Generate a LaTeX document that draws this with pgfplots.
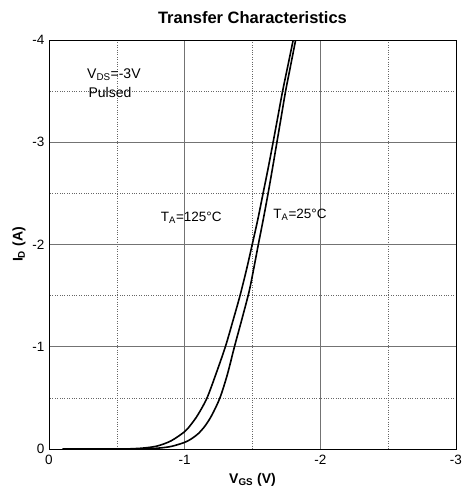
\documentclass[border=0pt]{standalone}
\usepackage{fontspec}
\setmainfont{Liberation Sans}
\usepackage{pgfplots}
\pgfplotsset{compat=1.18}
\begin{document}
\begin{tikzpicture}
\path[use as bounding box] (-49pt,-42pt) rectangle (416pt,449pt);
\begin{axis}[
  at={(0,0)}, anchor=south west,
  scale only axis, width=407pt, height=409pt,
  xmin=-3, xmax=0, ymin=-4, ymax=0,
  x dir=reverse, y dir=reverse,
  xtick={0,-1,-2,-3}, xticklabels={0,-1,-2,-3},
  ytick={0,-1,-2,-3,-4}, yticklabels={0,-1,-2,-3,-4},
  minor xtick={-0.5,-1.5,-2.5}, minor ytick={-0.5,-1.5,-2.5,-3.5},
  grid=both,
  major grid style={draw=black!55, line width=0.8pt},
  minor grid style={draw=black!60, dotted, line width=0.6pt},
  major tick length=0pt, minor tick length=0pt,
  axis line style={black, line width=0.8pt},
  tick label style={font=\fontsize{13.5}{15}\selectfont},
  xticklabel style={yshift=-3pt},
  yticklabel style={xshift=-1pt},
  title={\bfseries Transfer Characteristics},
  title style={font=\fontsize{16.5}{18}\selectfont, yshift=7pt},
  xlabel={\bfseries V\textsubscript{GS} (V)},
  ylabel={\bfseries I\textsubscript{D} (A)},
  label style={font=\fontsize{14}{16}\selectfont},
  xlabel style={yshift=-1pt},
  ylabel style={yshift=0pt},
]
\addplot[black, line width=1.6pt, smooth] coordinates {
(-0.1,0) (-0.5,0) (-0.6,-0.002) (-0.7,-0.01) (-0.8,-0.03) (-0.9,-0.08) (-1.0,-0.17)
(-1.05,-0.245) (-1.1,-0.34) (-1.165,-0.5) (-1.235,-0.75) (-1.30,-1.0) (-1.355,-1.25)
(-1.408,-1.5) (-1.455,-1.75) (-1.498,-2.0) (-1.54,-2.25) (-1.578,-2.5) (-1.616,-2.75)
(-1.652,-3.0) (-1.687,-3.25) (-1.722,-3.5) (-1.761,-3.75) (-1.80,-4.0)};
\addplot[black, line width=1.6pt, smooth] coordinates {
(-0.1,0) (-0.6,0) (-0.7,-0.002) (-0.8,-0.008) (-0.9,-0.025) (-1.0,-0.065) (-1.05,-0.1)
(-1.1,-0.15) (-1.15,-0.225) (-1.2,-0.33) (-1.26,-0.5) (-1.315,-0.73) (-1.367,-1.0)
(-1.422,-1.27) (-1.475,-1.54) (-1.51,-1.77) (-1.543,-2.0) (-1.58,-2.25) (-1.615,-2.5)
(-1.648,-2.75) (-1.68,-3.0) (-1.712,-3.25) (-1.744,-3.5) (-1.781,-3.75) (-1.818,-4.0)};
\node[anchor=west, font=\fontsize{14}{16}\selectfont, inner sep=0pt] at (axis cs:-0.280,-3.66) {V\textsubscript{DS}=-3V};
\node[anchor=west, font=\fontsize{14}{16}\selectfont, inner sep=0pt] at (axis cs:-0.290,-3.49) {Pulsed};
\node[anchor=west, font=\fontsize{13.5}{16}\selectfont, inner sep=0pt] at (axis cs:-0.824,-2.26) {T\textsubscript{A}=125°C};
\node[anchor=west, font=\fontsize{13.5}{16}\selectfont, inner sep=0pt] at (axis cs:-1.653,-2.29) {T\textsubscript{A}=25°C};
\end{axis}
\end{tikzpicture}
\end{document}
